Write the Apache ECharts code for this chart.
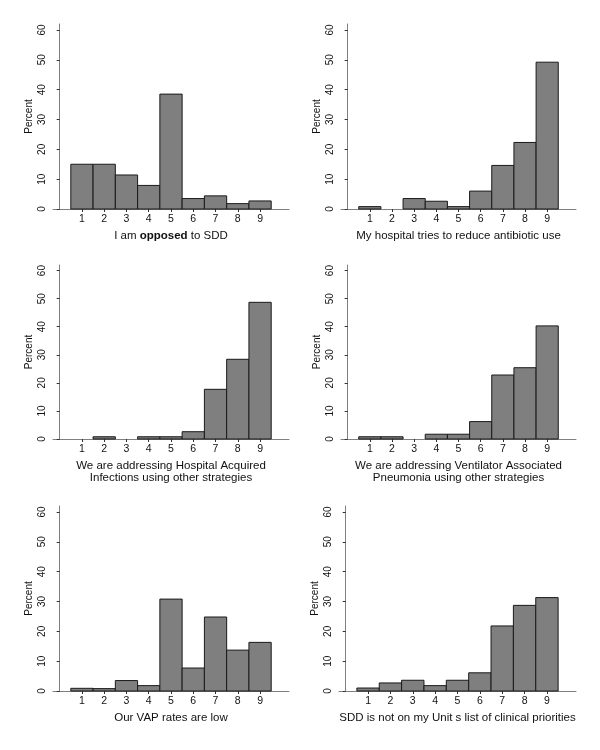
<!DOCTYPE html>
<html>
<head>
<meta charset="utf-8">
<script src="https://cdn.jsdelivr.net/npm/echarts@6/dist/echarts.min.js"></script>
<style>
  html, body { margin: 0; padding: 0; background: #fff; }
  #chart { width: 600px; height: 750px; }
</style>
</head>
<body>
<div id="chart"></div>
<script>
// response scale 1..9
const scores = [1, 2, 3, 4, 5, 6, 7, 8, 9]
const yTicks = [0, 10, 20, 30, 40, 50, 60]

// percent of respondents per score, one array per question
const opposedSDD = [15.0, 15.0, 11.4, 7.9, 38.5, 3.5, 4.4, 1.8, 2.7]
const reduceAntibiotic = [0.8, 0, 3.5, 2.6, 0.8, 6.0, 14.6, 22.3, 49.2]
const hospitalInfections = [0, 0.8, 0, 0.8, 0.8, 2.6, 17.7, 28.4, 48.7]
const ventilatorPneumonia = [0.8, 0.8, 0, 1.7, 1.7, 6.2, 22.8, 25.4, 40.3]
const vapRatesLow = [0.9, 0.8, 3.5, 1.8, 30.8, 7.7, 24.8, 13.7, 16.3]
const notPriority = [1.0, 2.7, 3.6, 1.8, 3.6, 6.1, 21.8, 28.7, 31.3]

const panelTitles = [
    '{n|I am }{b|opposed}{n| to SDD}',
    '{n|My hospital tries to reduce antibiotic use}',
    '{n|We are addressing Hospital Acquired}\n{n|Infections using other strategies}',
    '{n|We are addressing Ventilator Associated}\n{n|Pneumonia using other strategies}',
    '{n|Our VAP rates are low}',
    '{n|SDD is not on my Unit s list of clinical priorities}'
]
const panelData = [opposedSDD, reduceAntibiotic, hospitalInfections, ventilatorPneumonia, vapRatesLow, notPriority]

// grid boxes (left, top, width, height)
const grids = [
    { left: 53, top: 24, width: 236, height: 185 },
    { left: 341, top: 24, width: 235, height: 185 },
    { left: 53, top: 265, width: 236, height: 174 },
    { left: 341, top: 265, width: 235, height: 174 },
    { left: 53, top: 506, width: 236, height: 185 },
    { left: 339, top: 506, width: 237, height: 185 }
]

const font = 'Liberation Sans, Arial, Helvetica, sans-serif'
const axisGray = '#808080'

const chart = echarts.init(document.getElementById('chart'), null, { renderer: 'canvas' })

const option = {
    animation: false,
    backgroundColor: '#fff',
    textStyle: { fontFamily: font },
    grid: grids,
    xAxis: grids.map((g, i) => ({
        type: 'value',
        gridIndex: i,
        min: -0.3,
        max: 10.3,
        splitLine: { show: false },
        axisLine: { show: true, lineStyle: { color: axisGray, width: 1 } },
        axisTick: { show: true, length: 3, lineStyle: { color: '#333' }, customValues: scores },
        axisLabel: { fontSize: 10.5, color: '#111', margin: 5, fontFamily: font, customValues: scores },
        name: panelTitles[i],
        nameLocation: 'middle',
        nameGap: i === 2 || i === 3 ? 21 : 21,
        nameTextStyle: {
            fontFamily: font,
            color: '#111',
            lineHeight: 12,
            rich: {
                n: { fontSize: 11.5, fontFamily: font, color: '#111', lineHeight: 12 },
                b: { fontSize: 11.5, fontFamily: font, color: '#111', fontWeight: 'bold', lineHeight: 12 }
            }
        }
    })),
    yAxis: grids.map((g, i) => ({
        type: 'value',
        gridIndex: i,
        min: 0,
        max: 62,
        interval: 10,
        splitLine: { show: false },
        axisLine: { show: true, lineStyle: { color: axisGray, width: 1 } },
        axisTick: { show: true, length: 3, lineStyle: { color: '#333' }, customValues: yTicks },
        axisLabel: { fontSize: 10, color: '#111', rotate: 90, margin: 6, fontFamily: font, customValues: yTicks },
        name: 'Percent',
        nameLocation: 'middle',
        nameRotate: 90,
        nameGap: 19,
        nameTextStyle: { fontSize: 10, color: '#111', fontFamily: font }
    })),
    series: panelData.map((vals, i) => ({
        type: 'custom',
        xAxisIndex: i,
        yAxisIndex: i,
        data: scores.map((s, k) => [s, vals[k]]),
        renderItem(params, api) {
            const x = api.value(0)
            const y = api.value(1)
            if (!y) return null
            const p0 = api.coord([x - 0.5, y])
            const p1 = api.coord([x + 0.5, 0])
            return {
                type: 'rect',
                shape: { x: p0[0], y: p0[1], width: p1[0] - p0[0], height: p1[1] - p0[1] },
                style: { fill: '#7f7f7f', stroke: '#1a1a1a', lineWidth: 1 }
            }
        }
    }))
}

chart.setOption(option)
</script>
</body>
</html>
